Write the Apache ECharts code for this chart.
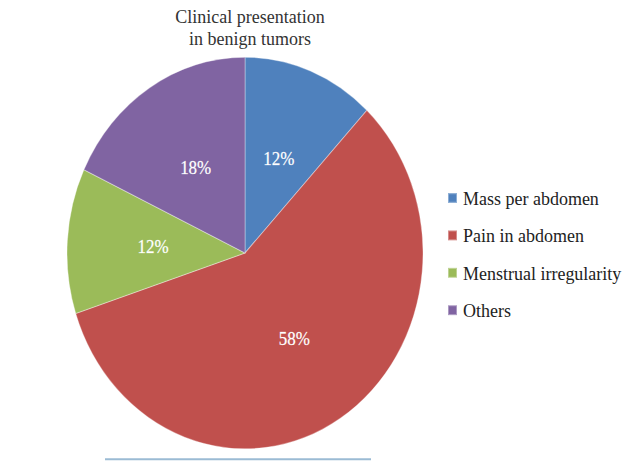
<!DOCTYPE html>
<html>
<head>
<meta charset="utf-8">
<script src="https://cdn.jsdelivr.net/npm/echarts@6/dist/echarts.min.js"></script>
<style>
html,body{margin:0;padding:0;background:#fff;overflow:hidden;}
#wrap{width:633px;height:461px;position:relative;overflow:hidden;}
#chart{position:absolute;left:0;top:0;width:633px;height:419px;transform:scaleY(1.1);transform-origin:0 0;}
</style>
</head>
<body>
<div id="wrap"><div id="chart"></div></div>
<script>
const titleLines = ['Clinical presentation', 'in benign tumors'];
const categories = ['Mass per abdomen', 'Pain in abdomen', 'Menstrual irregularity', 'Others'];
const values = [12, 58, 12, 18];
const colors = ['#4F81BD', '#C0504D', '#9BBB59', '#8064A2'];

const chart = echarts.init(document.getElementById('chart'), null, {renderer: 'svg', width: 633, height: 419});
const fontFamily = '"Liberation Serif", "Times New Roman", serif';

chart.setOption({
  animation: false,
  backgroundColor: '#fff',
  color: colors,
  title: {
    text: titleLines.join('\n'),
    left: 250,
    top: 5,
    padding: 0,
    textAlign: 'center',
    textStyle: {fontFamily: fontFamily, fontSize: 18, fontWeight: 'normal', color: '#333', lineHeight: 20}
  },
  legend: {
    orient: 'vertical',
    left: 447,
    top: 171,
    padding: 0,
    itemWidth: 9,
    itemHeight: 9,
    itemGap: 16,
    icon: 'rect',
    selectedMode: false,
    data: categories,
    textStyle: {fontFamily: fontFamily, fontSize: 18, color: '#222', padding: [0,0,0,1]}
  },
  graphic: [{
    type: 'line',
    shape: {x1: 105, y1: 417.5, x2: 371, y2: 417.5},
    style: {stroke: '#9BBBD4', lineWidth: 2}
  }],
  series: [{
    type: 'pie',
    center: [245, 230],
    radius: [0, 178],
    startAngle: 90,
    clockwise: true,
    avoidLabelOverlap: false,
    itemStyle: {borderColor: 'rgba(255,255,255,0.35)', borderWidth: 1},
    label: {
      show: true,
      position: 'inside',
      formatter: '{d}%',
      fontFamily: fontFamily,
      fontSize: 17,
      color: '#fff',
      textBorderColor: 'rgba(255,255,255,0.5)',
      textBorderWidth: 0.4
    },
    labelLine: {show: false},
    emphasis: {disabled: true},
    data: categories.map((c, i) => ({name: c, value: values[i]}))
  }]
});
</script>
</body>
</html>
